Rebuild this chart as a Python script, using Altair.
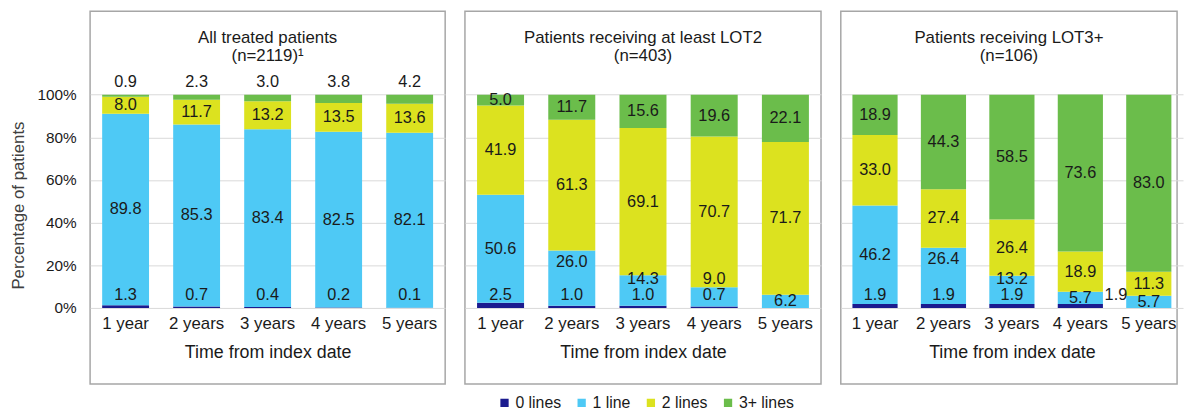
import altair as alt
import pandas as pd

years = ["1 year", "2 years", "3 years", "4 years", "5 years"]
categories = ["0 lines", "1 line", "2 lines", "3+ lines"]
colors = ["#1b1b8f", "#4ec9f5", "#dce21f", "#6bbd4b"]

panel_titles = [
    ["All treated patients", "(n=2119)¹"],
    ["Patients receiving at least LOT2", "(n=403)"],
    ["Patients receiving LOT3+", "(n=106)"],
]

# Panel 1: all treated patients
p1_zero = [1.3, 0.7, 0.4, 0.2, 0.1]
p1_one = [89.8, 85.3, 83.4, 82.5, 82.1]
p1_two = [8.0, 11.7, 13.2, 13.5, 13.6]
p1_three = [0.9, 2.3, 3.0, 3.8, 4.2]

# Panel 2: at least LOT2
p2_zero = [2.5, 1.0, 1.0, 0.7, 0.0]
p2_one = [50.6, 26.0, 14.3, 9.0, 6.2]
p2_two = [41.9, 61.3, 69.1, 70.7, 71.7]
p2_three = [5.0, 11.7, 15.6, 19.6, 22.1]

# Panel 3: LOT3+
p3_zero = [1.9, 1.9, 1.9, 1.9, 0.0]
p3_one = [46.2, 26.4, 13.2, 5.7, 5.7]
p3_two = [33.0, 27.4, 26.4, 18.9, 11.3]
p3_three = [18.9, 44.3, 58.5, 73.6, 83.0]

panels = [
    [p1_zero, p1_one, p1_two, p1_three],
    [p2_zero, p2_one, p2_two, p2_three],
    [p3_zero, p3_one, p3_two, p3_three],
]

bar_rows = []
label_rows = []
for k, series in enumerate(panels):
    for i, yr in enumerate(years):
        vals = [s[i] for s in series]
        bottoms = [sum(vals[:j]) for j in range(4)]
        tops = [bottoms[j] + vals[j] for j in range(4)]
        for j, cat in enumerate(categories):
            if vals[j] > 0:
                bar_rows.append(dict(panel=k, year=yr, cat=cat, y0=bottoms[j], y1=tops[j]))
        # label placement rules
        zero_outside = vals[0] > 0 and vals[1] < 7
        zero_inside = vals[0] > 0 and not zero_outside
        if vals[0] > 0:
            label_rows.append(dict(panel=k, year=yr, text=f"{vals[0]:.1f}",
                                   ly=6.0, outside=zero_outside))
        if vals[1] > 0:
            if vals[1] >= 40 or not zero_inside:
                ly = (bottoms[1] + tops[1]) / 2
            else:
                ly = max(tops[1] - 5.5, 13.5)
            label_rows.append(dict(panel=k, year=yr, text=f"{vals[1]:.1f}", ly=ly, outside=False))
        label_rows.append(dict(panel=k, year=yr, text=f"{vals[2]:.1f}",
                               ly=(bottoms[2] + tops[2]) / 2, outside=False))
        ly3 = 105.8 if vals[3] < 5 else (bottoms[3] + tops[3]) / 2
        label_rows.append(dict(panel=k, year=yr, text=f"{vals[3]:.1f}", ly=ly3, outside=False))

bars = pd.DataFrame(bar_rows)
labels = pd.DataFrame(label_rows)

FONT = "Liberation Sans"
TXT = "#1a1a1a"
H = 377
WIDTHS = [359, 360, 340]
XRANGE = [None, None, [0, 346]]
YDOM = [-35.7, 139.2]


def make_panel(k):
    first = k == 0
    sc = dict(domain=years, paddingInner=0.34, paddingOuter=0.17)
    if XRANGE[k] is not None:
        sc["range"] = XRANGE[k]
    xenc = alt.X(
        "year:N",
        sort=years,
        scale=alt.Scale(**sc),
        axis=alt.Axis(
            title="Time from index date", offset=-77, domain=False, ticks=False,
            labelPadding=8, labelAngle=0, labelFontSize=17, titleFontSize=18,
            titlePadding=12, labelColor=TXT, titleColor=TXT, titleFontWeight="normal",
        ),
    )
    if first:
        yaxis = alt.Axis(
            values=[0, 20, 40, 60, 80, 100], labelExpr="datum.value + '%'",
            title="Percentage of patients", grid=True, gridColor="#d9d9d9",
            domain=False, ticks=False, tickSize=0, labelPadding=14, labelFontSize=15.5,
            titleFontSize=17, titleFontWeight="normal", titlePadding=10,
            labelColor=TXT, titleColor="#404040", titleY=196,
        )
    else:
        yaxis = alt.Axis(
            values=[0, 20, 40, 60, 80, 100], labels=False, title=None, grid=True,
            gridColor="#d9d9d9", domain=False, ticks=False, tickSize=0,
        )
    yscale = alt.Scale(domain=YDOM, nice=False, zero=False)
    color = alt.Color(
        "cat:N",
        scale=alt.Scale(domain=categories, range=colors),
        legend=alt.Legend(
            title=None, orient="none", direction="horizontal", legendX=411, legendY=388,
            symbolType="square", symbolSize=70, symbolStrokeWidth=0, labelFontSize=16,
            labelColor=TXT, columnPadding=12, labelOffset=3,
        ) if first else None,
    )
    bar = alt.Chart(bars[bars.panel == k]).mark_bar().encode(
        x=xenc,
        y=alt.Y("y0:Q", scale=yscale, axis=yaxis),
        y2="y1:Q",
        color=color,
    )
    lab = labels[labels.panel == k]
    inside = alt.Chart(lab[~lab.outside]).mark_text(
        fontSize=16.5, color=TXT, baseline="middle"
    ).encode(
        x=alt.X("year:N", sort=years),
        y=alt.Y("ly:Q"),
        text="text:N",
    )
    layers = [bar, inside]
    if lab.outside.any():
        outside = alt.Chart(lab[lab.outside]).mark_text(
            fontSize=16.5, color=TXT, baseline="middle", dx=36
        ).encode(
            x=alt.X("year:N", sort=years),
            y=alt.Y("ly:Q"),
            text="text:N",
        )
        layers.append(outside)
    return alt.layer(*layers).properties(
        width=WIDTHS[k], height=H,
        title=alt.TitleParams(
            text=panel_titles[k], fontSize=17, fontWeight="normal", color=TXT,
            anchor="middle", frame="group", offset=-54, lineHeight=18,
        ),
    )


chart = alt.hconcat(*[make_panel(k) for k in range(3)], spacing=18).properties(
    padding={"left": 0, "top": 0, "right": 0, "bottom": 0}
).configure(font=FONT).configure_view(
    stroke="#a6a6a6", strokeWidth=1.5
).configure_axis(
    labelFont=FONT, titleFont=FONT
).configure_legend(labelFont=FONT).configure_title(font=FONT)

chart.save("out.html", embed_options={"renderer": "svg", "actions": False})
